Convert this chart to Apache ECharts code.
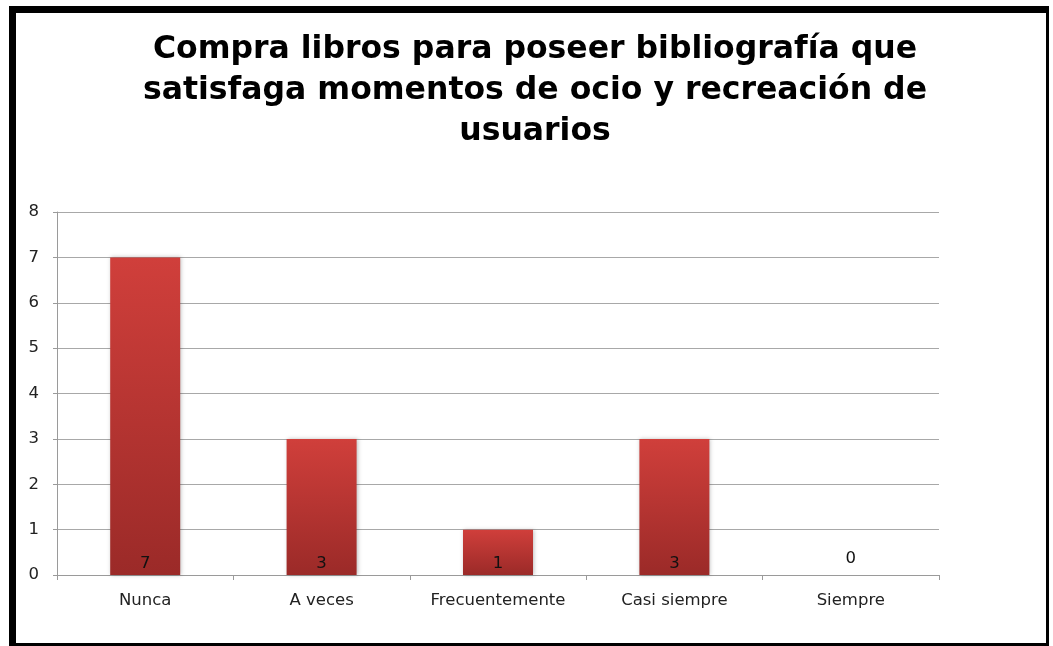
<!DOCTYPE html>
<html>
<head>
<meta charset="utf-8">
<script src="https://cdn.jsdelivr.net/npm/echarts@6/dist/echarts.min.js"></script>
<style>html,body{margin:0;padding:0;background:#fff;}#c{width:1053px;height:646px;}</style>
</head>
<body>
<div id="c"></div>
<script>
const titleText = 'Compra libros para poseer bibliografía que\nsatisfaga momentos de ocio y recreación de\nusuarios';
const categories = ['Nunca', 'A veces', 'Frecuentemente', 'Casi siempre', 'Siempre'];
const values = [7, 3, 1, 3, 0];
const yTicks = [0, 1, 2, 3, 4, 5, 6, 7, 8];

const chart = echarts.init(document.getElementById('c'), null, {renderer: 'canvas'});
const barColor = new echarts.graphic.LinearGradient(0, 0, 0, 1, [
  {offset: 0, color: '#d03f3b'},
  {offset: 1, color: '#9b2a28'}
]);
const seriesData = values.map(v => {
  if (v === 0) {
    return {value: v, label: {position: 'top', distance: 8}};
  }
  return v;
});
const labelFont = 'DejaVu Sans';
chart.setOption({
  animation: false,
  backgroundColor: '#ffffff',
  title: {
    text: titleText,
    left: 530,
    textAlign: 'center',
    top: 24,
    textStyle: {
      fontFamily: 'DejaVu Sans',
      fontWeight: 'bold',
      fontSize: 31.5,
      lineHeight: 41,
      color: '#000'
    }
  },
  grid: {left: 57, right: 114, top: 212, bottom: 71, containLabel: false},
  xAxis: {
    type: 'category',
    data: categories,
    axisLine: {show: true, lineStyle: {color: '#9a9a9a', width: 1}},
    axisTick: {show: true, length: 5, alignWithLabel: false, lineStyle: {color: '#9a9a9a'}},
    axisLabel: {margin: 17, fontFamily: labelFont, fontSize: 16.5, color: '#222'}
  },
  yAxis: {
    type: 'value',
    min: yTicks[0],
    max: yTicks[yTicks.length - 1],
    interval: 1,
    axisLine: {show: true, lineStyle: {color: '#9a9a9a', width: 1}},
    axisTick: {show: true, length: 4, lineStyle: {color: '#9a9a9a'}},
    axisLabel: {margin: 18, fontFamily: labelFont, fontSize: 16.5, color: '#222'},
    splitLine: {show: true, lineStyle: {color: '#a8a8a8', width: 1}}
  },
  series: [{
    type: 'bar',
    data: seriesData,
    barWidth: 70,
    itemStyle: {
      color: barColor,
      shadowColor: 'rgba(0,0,0,0.25)',
      shadowBlur: 4,
      shadowOffsetX: 1,
      shadowOffsetY: 0
    },
    label: {
      show: true,
      position: 'insideBottom',
      distance: 3,
      fontFamily: labelFont,
      fontSize: 16.5,
      color: '#111'
    }
  }],
  graphic: [
    {type: 'rect', shape: {x: 9, y: 6, width: 1040, height: 7}, style: {fill: '#000'}, silent: true},
    {type: 'rect', shape: {x: 9, y: 6, width: 7, height: 640}, style: {fill: '#000'}, silent: true},
    {type: 'rect', shape: {x: 1046, y: 6, width: 3, height: 640}, style: {fill: '#000'}, silent: true},
    {type: 'rect', shape: {x: 9, y: 643, width: 1040, height: 3}, style: {fill: '#000'}, silent: true}
  ]
});
</script>
</body>
</html>
